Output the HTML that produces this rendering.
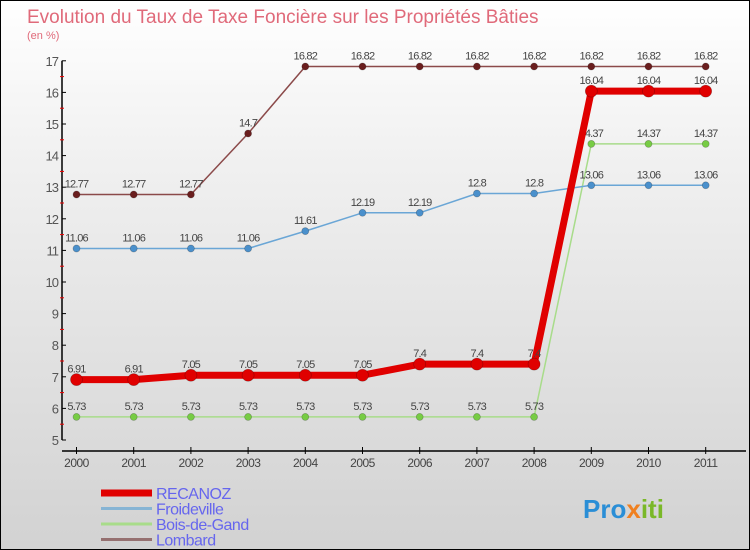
<!DOCTYPE html>
<html><head><meta charset="utf-8"><style>
body{margin:0}
#c{width:748px;height:548px;border:1px solid #000;background:linear-gradient(#fff,#f0f0f0 30%,#d2d2d2);position:relative;font-family:"Liberation Sans",sans-serif;overflow:hidden}
</style></head><body>
<div id="c">
<svg id="s" width="748" height="548" style="position:absolute;left:0;top:0"></svg>
</div>
<script>
const years=["2000","2001","2002","2003","2004","2005","2006","2007","2008","2009","2010","2011"];
const recanoz=[6.91,6.91,7.05,7.05,7.05,7.05,7.4,7.4,7.4,16.04,16.04,16.04];
const froideville=[11.06,11.06,11.06,11.06,11.61,12.19,12.19,12.8,12.8,13.06,13.06,13.06];
const boisDeGand=[5.73,5.73,5.73,5.73,5.73,5.73,5.73,5.73,5.73,14.37,14.37,14.37];
const lombard=[12.77,12.77,12.77,14.7,16.82,16.82,16.82,16.82,16.82,16.82,16.82,16.82];
const yTicks=[5,6,7,8,9,10,11,12,13,14,15,16,17];
const NS="http://www.w3.org/2000/svg";
const s=document.getElementById('s');
function X(i){return 75.5+i*57.2;}
function Y(v){return 439-(v-5)*31.6;}
function mk(t,a,p){const e=document.createElementNS(NS,t);for(const k in a)e.setAttribute(k,a[k]);(p||s).appendChild(e);return e;}
let t=mk('text',{x:26,y:22,'font-size':19,fill:'#e06a7a'});t.textContent="Evolution du Taux de Taxe Foncière sur les Propriétés Bâties";


t=mk('text',{x:26,y:38,'font-size':11,fill:'#e06a7a'});t.textContent="(en %)";


let a=mk('line',{x1:61,y1:Y(17),x2:61,y2:Y(5),stroke:'#000','stroke-width':1.5});


yTicks.forEach(v=>{mk('line',{x1:61,x2:65,y1:Y(v),y2:Y(v),stroke:'#000'});
if(v<17)mk('line',{x1:59,x2:63,y1:Y(v+0.5),y2:Y(v+0.5),stroke:'#e00'});
const l=mk('text',{x:57,y:Y(v)+5,'font-size':13,fill:'#555','text-anchor':'end','letter-spacing':'-1'});l.textContent=v;

});
a=mk('line',{x1:61,y1:450,x2:745,y2:450,stroke:'#000','stroke-width':1.5});


years.forEach((y,i)=>{mk('line',{x1:X(i),x2:X(i),y1:446,y2:453,stroke:'#000'});
const l=mk('text',{x:X(i),y:466,'font-size':12,fill:'#444','text-anchor':'middle','letter-spacing':'-0.5'});l.textContent=y;

});
function series(d,col,w,r,name,dot){
const g=mk('g',{});


mk('polyline',{points:d.map((v,i)=>X(i)+','+Y(v)).join(' '),fill:'none',stroke:col,'stroke-width':w,'stroke-linejoin':'round'},g);
d.forEach((v,i)=>{const c=mk('circle',{cx:X(i),cy:Y(v),r:r,fill:dot,stroke:'#0004','stroke-width':0.7},g);


const l=mk('text',{x:X(i),y:Y(v)-7,'font-size':11,fill:'#444','text-anchor':'middle','letter-spacing':'-0.8'},g);l.textContent=v;

});}
series(boisDeGand,'#a8dc8a',1.5,3.5,'bois-de-gand','#77cc44');
series(froideville,'#6aa6d6',1.5,3.5,'froideville','#4a90cc');
series(lombard,'#8b4a4a',1.5,3.5,'lombard','#6a1e1e');
series(recanoz,'#e00000',7,6,'recanoz','#e00000');
const leg=[["RECANOZ","#e00000",7],["Froideville","#86b4d4",3],["Bois-de-Gand","#a8dc8a",3],["Lombard","#957070",3]];
leg.forEach((e,i)=>{const y=492+i*15.5;const g=mk('g',{});


mk('line',{x1:100,x2:151,y1:y,y2:y,stroke:e[1],'stroke-width':e[2]},g);
const l=mk('text',{x:155,y:y+6,'font-size':16,fill:'#6666ee','letter-spacing':'-0.5'},g);l.textContent=e[0];});
t=mk('text',{x:582,y:517,'font-size':26,'font-weight':'bold',fill:'#2a8ed6'});t.innerHTML='Pro<tspan fill="#f08020">x</tspan><tspan fill="#7ab828">iti</tspan>';


</script>
</body></html>
